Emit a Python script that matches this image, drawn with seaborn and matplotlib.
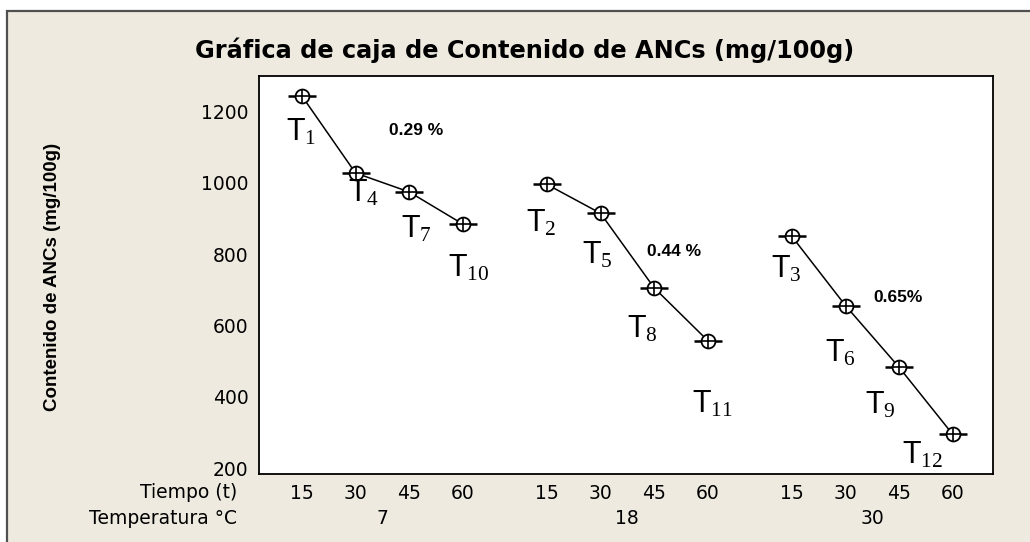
import numpy as np
import pandas as pd
import matplotlib
matplotlib.use("Agg")
import matplotlib.pyplot as plt
import matplotlib.transforms as mtransforms
from matplotlib.patches import Rectangle
import seaborn as sns

# ---------------- data ----------------
temperatures = [7, 18, 30]
times = [15, 30, 45, 60]
values_7 = [1244, 1028, 975, 885]
values_18 = [996, 915, 706, 558]
values_30 = [850, 656, 483, 295]
treat_7 = [1, 4, 7, 10]
treat_18 = [2, 5, 8, 11]
treat_30 = [3, 6, 9, 12]
loss_labels = ["0.29 %", "0.44 %", "0.65%"]
y_ticks = [200, 400, 600, 800, 1000, 1200]

title = "Gráfica de caja de Contenido de ANCs (mg/100g)"
ylabel = "Contenido de ANCs (mg/100g)"

# ---------------- layout ----------------
group_step = 4.57
rows = []
for g, (temp, vals, trs) in enumerate(zip(temperatures,
                                          [values_7, values_18, values_30],
                                          [treat_7, treat_18, treat_30])):
    for i, (t, v, tr) in enumerate(zip(times, vals, trs)):
        rows.append(dict(temp=temp, time=t, value=v, treat=tr,
                         pos=g * group_step + i))
df = pd.DataFrame(rows)

# label offsets (pixels) relative to each point: by treatment number
lab_off_px = {1: (-16, 45), 2: (-21, 47), 3: (-21, 41), 4: (-8, 28),
              5: (-19, 50), 6: (-21, 56), 7: (-8, 46), 8: (-27, 50),
              9: (-34, 46), 10: (-15, 52), 11: (-16, 72), 12: (-51, 29)}
loss_pos = [(2.13, 1146), (6.94, 807), (11.12, 680)]

W, H = 1030, 542
BEIGE = "#EEEAE0"

sns.set_style("white")
plt.rcParams["font.family"] = ["DejaVu Sans"]
plt.rcParams["mathtext.fontset"] = "custom"
plt.rcParams["mathtext.rm"] = "Liberation Serif"
plt.rcParams["mathtext.it"] = "Liberation Serif:italic"

fig = plt.figure(figsize=(W / 100, H / 100), dpi=100, facecolor="white")
# beige panel with gray border
fig.patches.append(Rectangle((7 / W, -0.2), 1.5, 1 - 11 / H + 0.2,
                             transform=fig.transFigure, facecolor=BEIGE,
                             edgecolor="#505050", linewidth=1.6, zorder=-10))

ax = fig.add_axes([259 / W, 1 - 474 / H, (993 - 259) / W, (474 - 76) / H])
ax.set_facecolor("white")

sns.lineplot(data=df, x="pos", y="value", units="temp", estimator=None,
             sort=False, color="black", linewidth=1.1, ax=ax, zorder=2)
sns.scatterplot(data=df, x="pos", y="value", marker="_", s=420,
                color="black", linewidth=1.8, ax=ax, zorder=3)
sns.scatterplot(data=df, x="pos", y="value", marker="o", s=100,
                facecolors="white", edgecolors="black", linewidth=1.3,
                ax=ax, zorder=4)
sns.scatterplot(data=df, x="pos", y="value", marker="+", s=100,
                color="black", linewidth=1.2, ax=ax, zorder=5)

ax.set_xlim(-0.80, 12.89)
ax.set_ylim(184, 1300)
ax.set_xticks(df["pos"].tolist(), [str(t) for t in df["time"]])
ax.set_yticks(y_ticks, [str(v) for v in y_ticks])
ax.set_xlabel("")
ax.set_ylabel("")
ax.tick_params(axis="both", direction="out", length=4.5, width=1,
               color="black", labelsize=13.5, labelcolor="black")
ax.tick_params(axis="x", pad=3)
ax.tick_params(axis="y", pad=3)
for sp in ax.spines.values():
    sp.set_color("black")
    sp.set_linewidth(1.3)
    sp.set_visible(True)

# treatment labels T_n
for _, r in df.iterrows():
    dx, dy = lab_off_px[int(r["treat"])]
    ax.annotate(r"T$_{\mathrm{%d}}$" % int(r["treat"]),
                xy=(r["pos"], r["value"]), xytext=(dx * 0.72, -dy * 0.72),
                textcoords="offset points", ha="left", va="baseline",
                fontsize=22, family="Liberation Sans", color="black",
                zorder=6)

# loss percentages
for (x, y), lab in zip(loss_pos, loss_labels):
    ax.text(x, y, lab, ha="center", va="center", fontsize=12.5,
            fontweight="bold", family="Liberation Sans", color="black")

# row headers and temperature row
fig.text(237 / W, 1 - 492 / H, "Tiempo (t)", ha="right", va="center",
         fontsize=13.5, color="black")
fig.text(237 / W, 1 - 519 / H, "Temperatura °C", ha="right", va="center",
         fontsize=13.5, color="black")
blend = mtransforms.blended_transform_factory(ax.transData, fig.transFigure)
for g, temp in enumerate(temperatures):
    centre = df.loc[df["temp"] == temp, "pos"].mean()
    ax.text(centre, 1 - 519 / H, str(temp), transform=blend, ha="center",
            va="center", fontsize=13.5, color="black")

fig.text(525 / W, 1 - 50 / H, title, ha="center", va="center",
         fontsize=17.3, fontweight="bold", color="black")
fig.text(53 / W, 1 - 277 / H, ylabel, ha="center", va="center",
         rotation=90, fontsize=13.5, fontweight="bold",
         family="Liberation Sans", color="black")

fig.savefig("out.png", dpi=100, facecolor=fig.get_facecolor())
